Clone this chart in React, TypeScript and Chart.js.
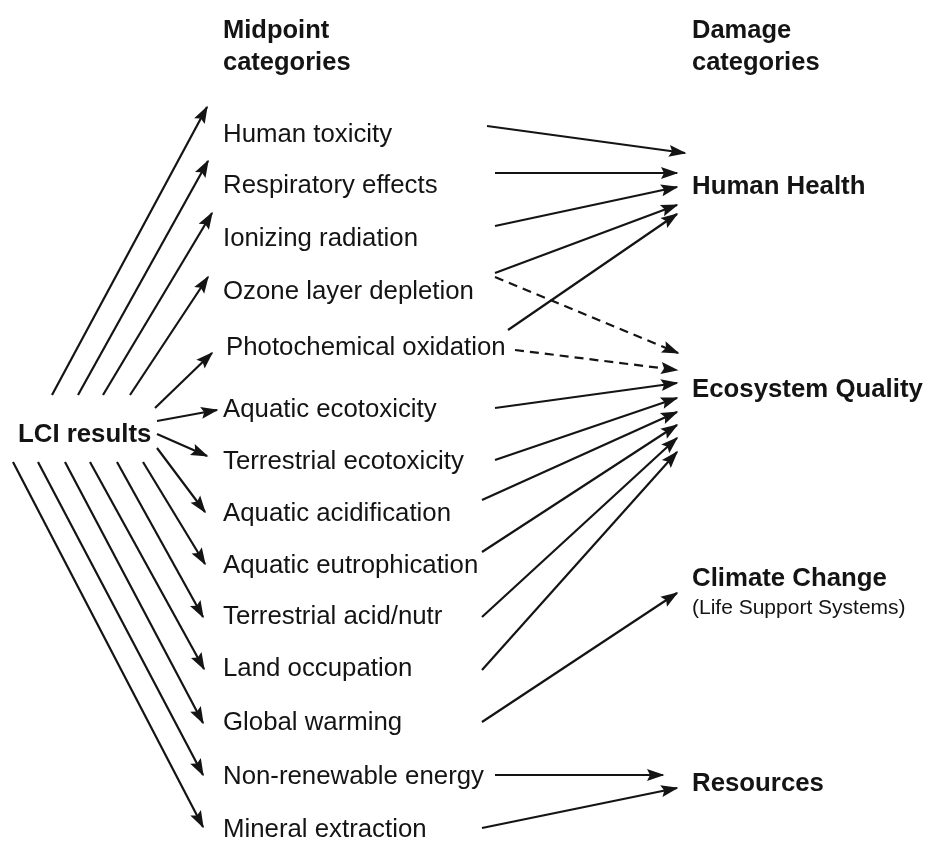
import React, { useEffect, useRef } from "react";
import { Chart, registerables } from "chart.js";

Chart.register(...registerables);

// ---- Diagram data (coordinates in diagram units: x 0..925, y 0..841 top-down) ----
const midpointCategories = [
  "Human toxicity",
  "Respiratory effects",
  "Ionizing radiation",
  "Ozone layer depletion",
  "Photochemical oxidation",
  "Aquatic ecotoxicity",
  "Terrestrial ecotoxicity",
  "Aquatic acidification",
  "Aquatic eutrophication",
  "Terrestrial acid/nutr",
  "Land occupation",
  "Global warming",
  "Non-renewable energy",
  "Mineral extraction",
];
const midpointLabelX = [223, 223, 223, 223, 226, 223, 223, 223, 223, 223, 223, 223, 223, 223];
const midpointLabelY = [133, 184, 237, 290, 346, 408, 460, 512, 564, 615, 667, 721, 775, 828];

const damageCategories = ["Human Health", "Ecosystem Quality", "Climate Change", "Resources"];
const damageLabelX = [692, 692, 692, 692];
const damageLabelY = [185, 388, 577, 782];
const damageSubtitle = ["", "", "(Life Support Systems)", ""];
const damageSubtitleY = [0, 0, 607, 0];

const headerLines = [["Midpoint", "categories"], ["Damage", "categories"]];
const headerX = [223, 692];
const headerLineY = [29, 61];

const sourceLabel = "LCI results";
const sourceX = 18;
const sourceY = 433;

// LCI results -> midpoint arrows
const lciStartX = [52, 78, 103, 130, 155, 157, 157, 157, 143, 117, 90, 65, 38, 13];
const lciStartY = [395, 395, 395, 395, 408, 421, 434, 448, 462, 462, 462, 462, 462, 462];
const lciTipX = [207, 208, 212, 208, 212, 217, 207, 205, 205, 203, 204, 203, 203, 203];
const lciTipY = [107, 161, 213, 277, 353, 410, 456, 512, 564, 617, 669, 723, 775, 827];

// midpoint -> damage arrows
const linkFrom = [0, 1, 2, 3, 4, 3, 4, 5, 6, 7, 8, 9, 10, 11, 12, 13];
const linkTo = [0, 0, 0, 0, 0, 1, 1, 1, 1, 1, 1, 1, 1, 2, 3, 3];
const linkStartX = [487, 495, 495, 495, 508, 495, 515, 495, 495, 482, 482, 482, 482, 482, 495, 482];
const linkStartY = [126, 173, 226, 273, 330, 277, 350, 408, 460, 500, 552, 617, 670, 722, 775, 828];
const linkTipX = [685, 677, 677, 677, 677, 678, 677, 677, 677, 677, 677, 677, 677, 677, 663, 677];
const linkTipY = [153, 173, 187, 205, 214, 353, 370, 383, 398, 412, 425, 438, 452, 593, 775, 788];
const linkDashed = [false, false, false, false, false, true, true, false, false, false, false, false, false, false, false, false];

const FONT = '"Liberation Sans", Arial, Helvetica, sans-serif';
const INK = "#141414";

function buildDatasets() {
  const ds: any[] = [];
  for (let i = 0; i < lciStartX.length; i++) {
    ds.push({
      label: "LCI → " + midpointCategories[i],
      data: [
        { x: lciStartX[i], y: lciStartY[i] },
        { x: lciTipX[i], y: lciTipY[i] },
      ],
      dashed: false,
    });
  }
  for (let i = 0; i < linkFrom.length; i++) {
    ds.push({
      label: midpointCategories[linkFrom[i]] + " → " + damageCategories[linkTo[i]],
      data: [
        { x: linkStartX[i], y: linkStartY[i] },
        { x: linkTipX[i], y: linkTipY[i] },
      ],
      dashed: linkDashed[i],
    });
  }
  return ds.map((d) => ({
    type: "line",
    label: d.label,
    data: d.data,
    showLine: true,
    borderColor: INK,
    borderWidth: 2.2,
    borderDash: d.dashed ? [9, 6] : [],
    pointRadius: 0,
    pointHoverRadius: 0,
    fill: false,
    tension: 0,
  }));
}

const arrowHeadPlugin = {
  id: "arrowHeads",
  afterDatasetsDraw(chart: any) {
    const ctx = chart.ctx;
    chart.data.datasets.forEach((_: any, i: number) => {
      const meta = chart.getDatasetMeta(i);
      const pts = meta.data;
      if (!pts || pts.length < 2) return;
      const a = pts[pts.length - 2];
      const b = pts[pts.length - 1];
      const ang = Math.atan2(b.y - a.y, b.x - a.x);
      const L = 16;
      const W = 6;
      ctx.save();
      ctx.translate(b.x, b.y);
      ctx.rotate(ang);
      ctx.beginPath();
      ctx.moveTo(1.5, 0);
      ctx.lineTo(-L, -W);
      ctx.lineTo(-L + 3, 0);
      ctx.lineTo(-L, W);
      ctx.closePath();
      ctx.fillStyle = INK;
      ctx.fill();
      ctx.restore();
    });
  },
};

function drawText(ctx: any, text: string, px: number, pyCenter: number, size: number, bold: boolean) {
  ctx.font = `${bold ? "bold " : ""}${size}px ${FONT}`;
  ctx.fillStyle = INK;
  ctx.textAlign = "left";
  ctx.textBaseline = "alphabetic";
  ctx.fillText(text, px, pyCenter + size * 0.355);
}

const textPlugin = {
  id: "diagramText",
  afterDatasetsDraw(chart: any) {
    const ctx = chart.ctx;
    const xs = chart.scales.x;
    const ys = chart.scales.y;
    ctx.save();
    headerLines.forEach((lines, h) => {
      lines.forEach((t, k) => {
        drawText(ctx, t, xs.getPixelForValue(headerX[h]), ys.getPixelForValue(headerLineY[k]), 25.5, true);
      });
    });
    drawText(ctx, sourceLabel, xs.getPixelForValue(sourceX), ys.getPixelForValue(sourceY), 25.8, true);
    midpointCategories.forEach((t, i) => {
      drawText(ctx, t, xs.getPixelForValue(midpointLabelX[i]), ys.getPixelForValue(midpointLabelY[i]), 25.8, false);
    });
    damageCategories.forEach((t, i) => {
      drawText(ctx, t, xs.getPixelForValue(damageLabelX[i]), ys.getPixelForValue(damageLabelY[i]), 25.8, true);
      if (damageSubtitle[i]) {
        drawText(ctx, damageSubtitle[i], xs.getPixelForValue(damageLabelX[i]), ys.getPixelForValue(damageSubtitleY[i]), 21, false);
      }
    });
    ctx.restore();
  },
};

export default function App() {
  const canvasRef = useRef<HTMLCanvasElement | null>(null);

  useEffect(() => {
    if (!canvasRef.current) return;
    const chart = new Chart(canvasRef.current, {
      type: "scatter",
      data: { datasets: buildDatasets() as any },
      options: {
        animation: false,
        responsive: false,
        maintainAspectRatio: false,
        layout: { padding: 0 },
        plugins: {
          legend: { display: false },
          tooltip: { enabled: false },
          title: { display: false },
        },
        events: [],
        scales: {
          x: { type: "linear", min: 0, max: 925, display: false },
          y: { type: "linear", min: 0, max: 841, reverse: true, display: false },
        },
      },
      plugins: [arrowHeadPlugin, textPlugin],
    });
    return () => chart.destroy();
  }, []);

  return (
    <div style={{ position: "fixed", left: 0, top: 0, width: 925, height: 841, background: "#fff" }}>
      <canvas ref={canvasRef} width={925} height={841} style={{ display: "block" }} />
    </div>
  );
}
